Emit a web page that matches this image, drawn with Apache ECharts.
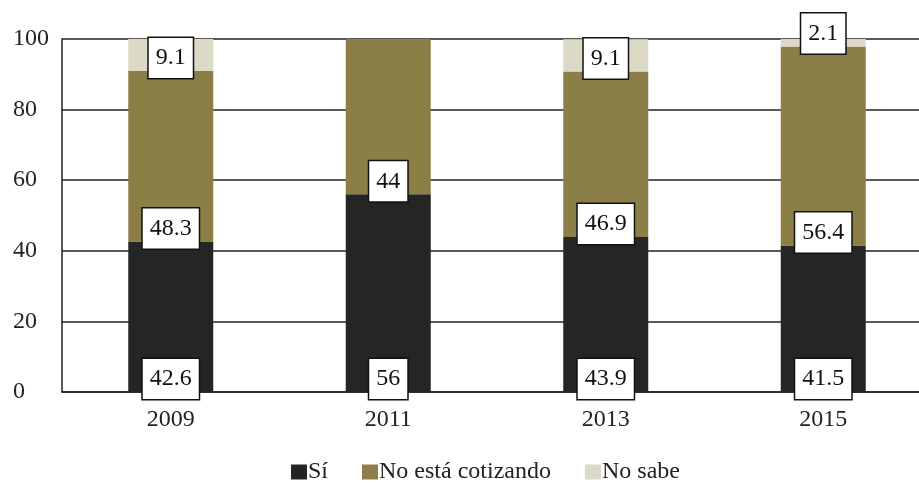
<!DOCTYPE html>
<html>
<head>
<meta charset="utf-8">
<script src="https://cdn.jsdelivr.net/npm/echarts@6/dist/echarts.min.js"></script>
<style>html,body{margin:0;padding:0;background:#fff;overflow:hidden;}#c{width:919px;height:485px;}</style>
</head>
<body>
<div id="c"></div>
<script>
const categories = ['2009', '2011', '2013', '2015'];
const si = [42.6, 56, 43.9, 41.5];
const noCotizando = [48.3, 44, 46.9, 56.4];
const noSabe = [9.1, null, 9.1, 2.1];
const yTicks = [0, 20, 40, 60, 80, 100];

const font = 'Liberation Serif';
const labelStyle = {
  show: true,
  position: 'insideBottom',
  distance: 0,
  offset: [0, 7],
  color: '#111',
  fontFamily: font,
  fontSize: 24,
  lineHeight: 24,
  backgroundColor: '#fff',
  borderColor: '#111',
  borderWidth: 1.5,
  padding: [8, 7, 8, 7]
};

const chart = echarts.init(document.getElementById('c'));
chart.setOption({
  animation: false,
  textStyle: { fontFamily: font },
  grid: { left: 62, right: -13, top: 39, bottom: 93, containLabel: false, outerBoundsMode: 'none' },
  legend: {
    top: 455, left: 286,
    itemWidth: 16, itemHeight: 15, itemGap: 34,
    icon: 'rect',
    textStyle: { fontFamily: font, fontSize: 24, color: '#222', padding: [0, 0, 0, -4] },
    data: ['Sí', 'No está cotizando', 'No sabe']
  },
  xAxis: {
    type: 'category',
    data: categories,
    axisLine: { show: true, lineStyle: { color: '#222', width: 1.5 } },
    axisTick: { show: false },
    axisLabel: { color: '#222', fontFamily: font, fontSize: 24, margin: 16 }
  },
  yAxis: {
    type: 'value',
    min: yTicks[0], max: yTicks[yTicks.length - 1], interval: 20,
    axisLine: { show: true, lineStyle: { color: '#222', width: 1.5 } },
    axisTick: { show: false },
    splitLine: { lineStyle: { color: '#222', width: 1.5 } },
    axisLabel: {
      color: '#222', fontFamily: font, fontSize: 24,
      align: 'left', margin: 49
    }
  },
  series: [
    { name: 'Sí', type: 'bar', stack: 't', data: si, barWidth: 85,
      itemStyle: { color: '#252525' }, label: labelStyle },
    { name: 'No está cotizando', type: 'bar', stack: 't', data: noCotizando,
      itemStyle: { color: '#8c7e47' }, label: labelStyle },
    { name: 'No sabe', type: 'bar', stack: 't', data: noSabe,
      itemStyle: { color: '#dcdac6' }, label: labelStyle }
  ]
});
</script>
</body>
</html>
